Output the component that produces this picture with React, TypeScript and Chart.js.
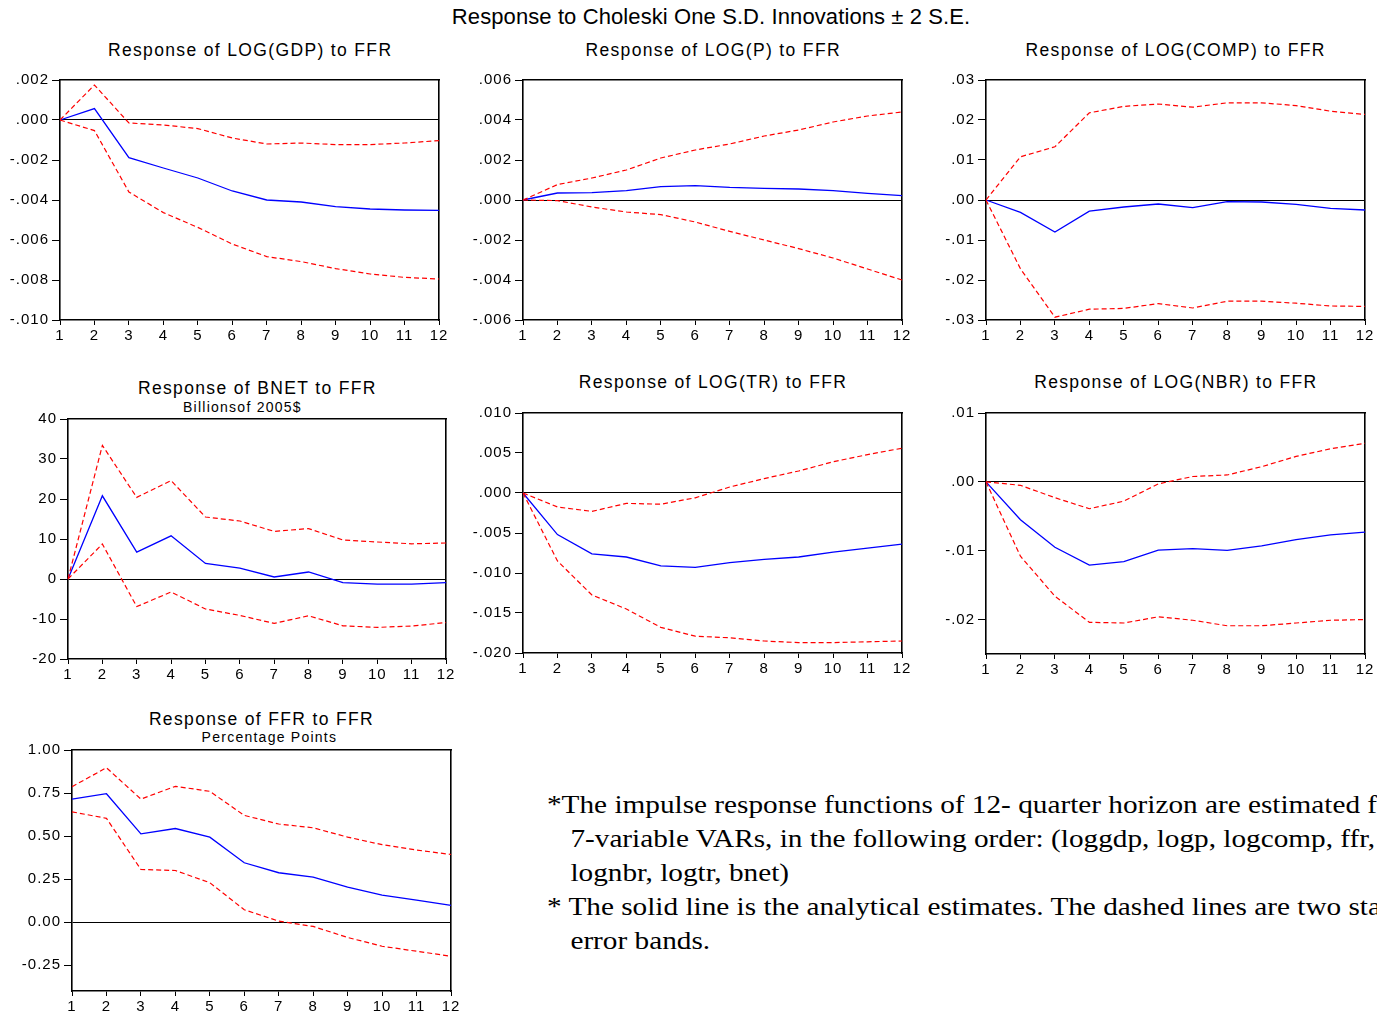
import React, { useEffect, useRef } from "react";
import { Chart, registerables } from "chart.js";

Chart.register(...registerables);

// ---------------- DATA ----------------
const periods = ["1", "2", "3", "4", "5", "6", "7", "8", "9", "10", "11", "12"];

const gdpResp = [0, 0.00057, -0.00188, -0.0024, -0.0029, -0.00355, -0.004, -0.0041, -0.00433, -0.00445, -0.0045, -0.00452];
const gdpUpper = [0, 0.00175, -0.00015, -0.00025, -0.00043, -0.0009, -0.0012, -0.00115, -0.00123, -0.00123, -0.00115, -0.00103];
const gdpLower = [0, -0.00053, -0.0036, -0.00463, -0.00537, -0.0062, -0.00683, -0.00708, -0.00743, -0.0077, -0.00787, -0.00795];
const gdpTickVals = [-0.01, -0.008, -0.006, -0.004, -0.002, 0, 0.002];
const gdpTickLabels = ["-.010", "-.008", "-.006", "-.004", "-.002", ".000", ".002"];

const pResp = [0, 0.00035, 0.00037, 0.00047, 0.00067, 0.00072, 0.00063, 0.00058, 0.00055, 0.00047, 0.00033, 0.00022];
const pUpper = [0, 0.00077, 0.0011, 0.0015, 0.0021, 0.0025, 0.0028, 0.0032, 0.0035, 0.0039, 0.0042, 0.0044];
const pLower = [0, -0.00003, -0.00035, -0.0006, -0.00073, -0.0011, -0.00157, -0.002, -0.00243, -0.0029, -0.00345, -0.004];
const pTickVals = [-0.006, -0.004, -0.002, 0, 0.002, 0.004, 0.006];
const pTickLabels = ["-.006", "-.004", "-.002", ".000", ".002", ".004", ".006"];

const compResp = [0, -0.0031, -0.008, -0.0028, -0.00175, -0.001, -0.0019, -0.0004, -0.0005, -0.0011, -0.0021, -0.0025];
const compUpper = [0, 0.0108, 0.0133, 0.0218, 0.0234, 0.024, 0.0232, 0.0243, 0.0243, 0.0236, 0.0222, 0.0214];
const compLower = [0, -0.0172, -0.0293, -0.0273, -0.0271, -0.0259, -0.027, -0.0253, -0.0253, -0.0258, -0.0265, -0.0266];
const compTickVals = [-0.03, -0.02, -0.01, 0, 0.01, 0.02, 0.03];
const compTickLabels = ["-.03", "-.02", "-.01", ".00", ".01", ".02", ".03"];

const bnetResp = [0, 20.8, 6.7, 10.8, 3.9, 2.7, 0.5, 1.75, -0.9, -1.3, -1.3, -0.9];
const bnetUpper = [0, 33.4, 20.4, 24.6, 15.5, 14.5, 11.9, 12.6, 9.75, 9.25, 8.8, 9.0];
const bnetLower = [0, 8.75, -6.9, -3.25, -7.5, -9.1, -11.1, -9.2, -11.7, -12.1, -11.75, -10.9];
const bnetTickVals = [-20, -10, 0, 10, 20, 30, 40];
const bnetTickLabels = ["-20", "-10", "0", "10", "20", "30", "40"];

const trResp = [0, -0.0052, -0.0076, -0.008, -0.0091, -0.0093, -0.0087, -0.0083, -0.008, -0.0074, -0.0069, -0.0064];
const trUpper = [0, -0.00175, -0.0023, -0.0013, -0.0014, -0.0006, 0.00075, 0.0018, 0.00275, 0.0039, 0.0048, 0.0056];
const trLower = [0, -0.0085, -0.01275, -0.0145, -0.0168, -0.0179, -0.0181, -0.0185, -0.0187, -0.0187, -0.0186, -0.0185];
const trTickVals = [-0.02, -0.015, -0.01, -0.005, 0, 0.005, 0.01];
const trTickLabels = ["-.020", "-.015", "-.010", "-.005", ".000", ".005", ".010"];

const nbrResp = [0, -0.0055, -0.0095, -0.0121, -0.0116, -0.0099, -0.0097, -0.00995, -0.0093, -0.0084, -0.0077, -0.0073];
const nbrUpper = [0, -0.0005, -0.0023, -0.0039, -0.0028, -0.0003, 0.00078, 0.001, 0.0022, 0.0037, 0.0048, 0.0056];
const nbrLower = [0, -0.0108, -0.0166, -0.0204, -0.0205, -0.0196, -0.0201, -0.0209, -0.0209, -0.0205, -0.0201, -0.02];
const nbrTickVals = [-0.02, -0.01, 0, 0.01];
const nbrTickLabels = ["-.02", "-.01", ".00", ".01"];

const ffrResp = [0.715, 0.746, 0.513, 0.544, 0.494, 0.345, 0.287, 0.262, 0.203, 0.157, 0.128, 0.097];
const ffrUpper = [0.787, 0.897, 0.715, 0.789, 0.76, 0.62, 0.57, 0.548, 0.494, 0.45, 0.419, 0.393];
const ffrLower = [0.641, 0.603, 0.306, 0.3, 0.229, 0.072, 0.006, -0.025, -0.089, -0.14, -0.169, -0.198];
const ffrTickVals = [-0.25, 0, 0.25, 0.5, 0.75, 1.0];
const ffrTickLabels = ["-0.25", "0.00", "0.25", "0.50", "0.75", "1.00"];

const mainTitle = "Response to Choleski One S.D. Innovations \u00b1 2 S.E.";
const footLines = [
  { text: "*The impulse response functions of 12- quarter horizon are estimated from", indent: false },
  { text: "7-variable VARs, in the following order: (loggdp, logp, logcomp, ffr,", indent: true },
  { text: "lognbr, logtr, bnet)", indent: true },
  { text: "* The solid line is the analytical estimates. The dashed lines are two standard", indent: false },
  { text: "error bands.", indent: true },
];

// ---------------- LAYOUT ----------------
const Y_W = 60;
const X_H = 26;
const PAD_TOP = 12;
const PAD_RIGHT = 16;
const SANS = "'Liberation Sans', Arial, Helvetica, sans-serif";
const SERIF = "'Liberation Serif', 'Times New Roman', serif";

type Panel = {
  title: string;
  subtitle?: string;
  titleX: number;
  titleBase: number;
  subX?: number;
  subBase?: number;
  left: number;
  top: number;
  w: number;
  h: number;
  min: number;
  max: number;
  resp: number[];
  upper: number[];
  lower: number[];
  tickVals: number[];
  tickLabels: string[];
};

const panels: Panel[] = [
  { title: "Response of LOG(GDP) to FFR", titleX: 249.5, titleBase: 56.5, left: 60, top: 80, w: 379, h: 240, min: -0.01, max: 0.002, resp: gdpResp, upper: gdpUpper, lower: gdpLower, tickVals: gdpTickVals, tickLabels: gdpTickLabels },
  { title: "Response of LOG(P) to FFR", titleX: 712.5, titleBase: 56.5, left: 523, top: 80, w: 379, h: 240, min: -0.006, max: 0.006, resp: pResp, upper: pUpper, lower: pLower, tickVals: pTickVals, tickLabels: pTickLabels },
  { title: "Response of LOG(COMP) to FFR", titleX: 1175, titleBase: 56.5, left: 986, top: 80, w: 379, h: 240, min: -0.03, max: 0.03, resp: compResp, upper: compUpper, lower: compLower, tickVals: compTickVals, tickLabels: compTickLabels },
  { title: "Response of BNET to FFR", subtitle: "Billionsof 2005$", titleX: 256.7, titleBase: 395, subX: 241.8, subBase: 411.7, left: 68, top: 419, w: 378, h: 240, min: -20, max: 40, resp: bnetResp, upper: bnetUpper, lower: bnetLower, tickVals: bnetTickVals, tickLabels: bnetTickLabels },
  { title: "Response of LOG(TR) to FFR", titleX: 712.3, titleBase: 389.3, left: 523, top: 413, w: 379, h: 240, min: -0.02, max: 0.01, resp: trResp, upper: trUpper, lower: trLower, tickVals: trTickVals, tickLabels: trTickLabels },
  { title: "Response of LOG(NBR) to FFR", titleX: 1175.2, titleBase: 389.3, left: 986, top: 413, w: 379, h: 241, min: -0.025, max: 0.01, resp: nbrResp, upper: nbrUpper, lower: nbrLower, tickVals: nbrTickVals, tickLabels: nbrTickLabels },
  { title: "Response of FFR to FFR", subtitle: "Percentage Points", titleX: 260.8, titleBase: 726, subX: 268.8, subBase: 741.7, left: 72, top: 750, w: 379, h: 241, min: -0.4, max: 1.0, resp: ffrResp, upper: ffrUpper, lower: ffrLower, tickVals: ffrTickVals, tickLabels: ffrTickLabels },
];

function makeConfig(p: Panel): any {
  const border = { display: true, color: "#000", width: 1.6 };
  const font = { family: SANS, size: 15 };
  return {
    type: "line",
    data: {
      labels: periods,
      datasets: [
        { data: p.upper, borderColor: "#ff0000", borderWidth: 1.2, borderDash: [5, 3], pointRadius: 0, fill: false, tension: 0 },
        { data: p.lower, borderColor: "#ff0000", borderWidth: 1.2, borderDash: [5, 3], pointRadius: 0, fill: false, tension: 0 },
        { data: p.resp, borderColor: "#0000ff", borderWidth: 1.3, pointRadius: 0, fill: false, tension: 0 },
      ],
    },
    options: {
      responsive: false,
      maintainAspectRatio: false,
      animation: false,
      events: [],
      layout: { padding: { left: 0, top: PAD_TOP, right: PAD_RIGHT, bottom: 0 } },
      plugins: { legend: { display: false }, tooltip: { enabled: false }, title: { display: false } },
      scales: {
        x: {
          type: "category",
          position: "bottom",
          offset: false,
          grid: { drawOnChartArea: false, drawTicks: true, tickLength: 5, tickColor: "#000", tickWidth: 1 },
          border,
          ticks: { color: "#000", font, padding: 2, maxRotation: 0, minRotation: 0, autoSkip: false },
          afterFit: (s: any) => { s.height = X_H; },
        },
        x2: {
          type: "category",
          position: "top",
          grid: { drawOnChartArea: false, drawTicks: false },
          border,
          ticks: { display: false },
          afterFit: (s: any) => { s.height = 0; },
        },
        y: {
          type: "linear",
          position: "left",
          min: p.min,
          max: p.max,
          afterBuildTicks: (s: any) => { s.ticks = p.tickVals.map((v) => ({ value: v })); },
          grid: {
            drawOnChartArea: true,
            color: (ctx: any) => (ctx.tick && Math.abs(ctx.tick.value) < 1e-12 ? "#000" : "rgba(0,0,0,0)"),
            lineWidth: 1,
            drawTicks: true,
            tickLength: 8,
            tickColor: "#000",
            tickWidth: 1,
          },
          border,
          ticks: { color: "#000", font, padding: 3, callback: (_v: any, i: number) => p.tickLabels[i] },
          afterFit: (s: any) => { s.width = Y_W; },
        },
        y2: {
          type: "linear",
          position: "right",
          min: 0,
          max: 1,
          grid: { drawOnChartArea: false, drawTicks: false },
          border,
          ticks: { display: false },
          afterFit: (s: any) => { s.width = 0; },
        },
      },
    },
    plugins: [
      {
        id: "letterSpacing",
        beforeDraw: (c: any) => { try { c.ctx.letterSpacing = "1px"; } catch (e) {} },
      },
    ],
  };
}

function PanelChart({ p }: { p: Panel }) {
  const ref = useRef<HTMLCanvasElement>(null);
  useEffect(() => {
    const chart = new Chart(ref.current as HTMLCanvasElement, makeConfig(p));
    return () => chart.destroy();
  }, []);
  const w = p.w + Y_W + PAD_RIGHT;
  const h = p.h + PAD_TOP + X_H;
  return (
    <canvas
      ref={ref}
      width={w}
      height={h}
      style={{ position: "absolute", left: p.left - Y_W, top: p.top - PAD_TOP, width: w, height: h }}
    />
  );
}

function Label({ x, base, size, spacing, text }: { x: number; base: number; size: number; spacing: number; text: string }) {
  return (
    <div
      style={{
        position: "absolute",
        left: x + spacing / 2,
        top: base - 0.8465 * size,
        transform: "translateX(-50%)",
        fontFamily: SANS,
        fontSize: size,
        lineHeight: `${size}px`,
        letterSpacing: spacing,
        whiteSpace: "nowrap",
        color: "#000",
      }}
    >
      {text}
    </div>
  );
}

export default function App() {
  return (
    <div style={{ position: "absolute", left: 0, top: 0, width: 1377, height: 1015, overflow: "hidden", background: "#fff" }}>
      <Label x={711} base={24.5} size={22} spacing={0.1} text={mainTitle} />
      {panels.map((p, i) => (
        <React.Fragment key={i}>
          <Label x={p.titleX} base={p.titleBase} size={17.5} spacing={1.35} text={p.title} />
          {p.subtitle && <Label x={p.subX as number} base={p.subBase as number} size={14} spacing={1.25} text={p.subtitle} />}
          <PanelChart p={p} />
        </React.Fragment>
      ))}
      <div
        style={{
          position: "absolute",
          left: 547,
          top: 788,
          fontFamily: SERIF,
          fontSize: 25,
          lineHeight: "34px",
          whiteSpace: "nowrap",
          color: "#000",
          transform: "scaleX(1.17)",
          transformOrigin: "0 0",
        }}
      >
        {footLines.map((l, i) => (
          <div key={i} style={{ paddingLeft: l.indent ? 20 : 0 }}>{l.text}</div>
        ))}
      </div>
    </div>
  );
}
